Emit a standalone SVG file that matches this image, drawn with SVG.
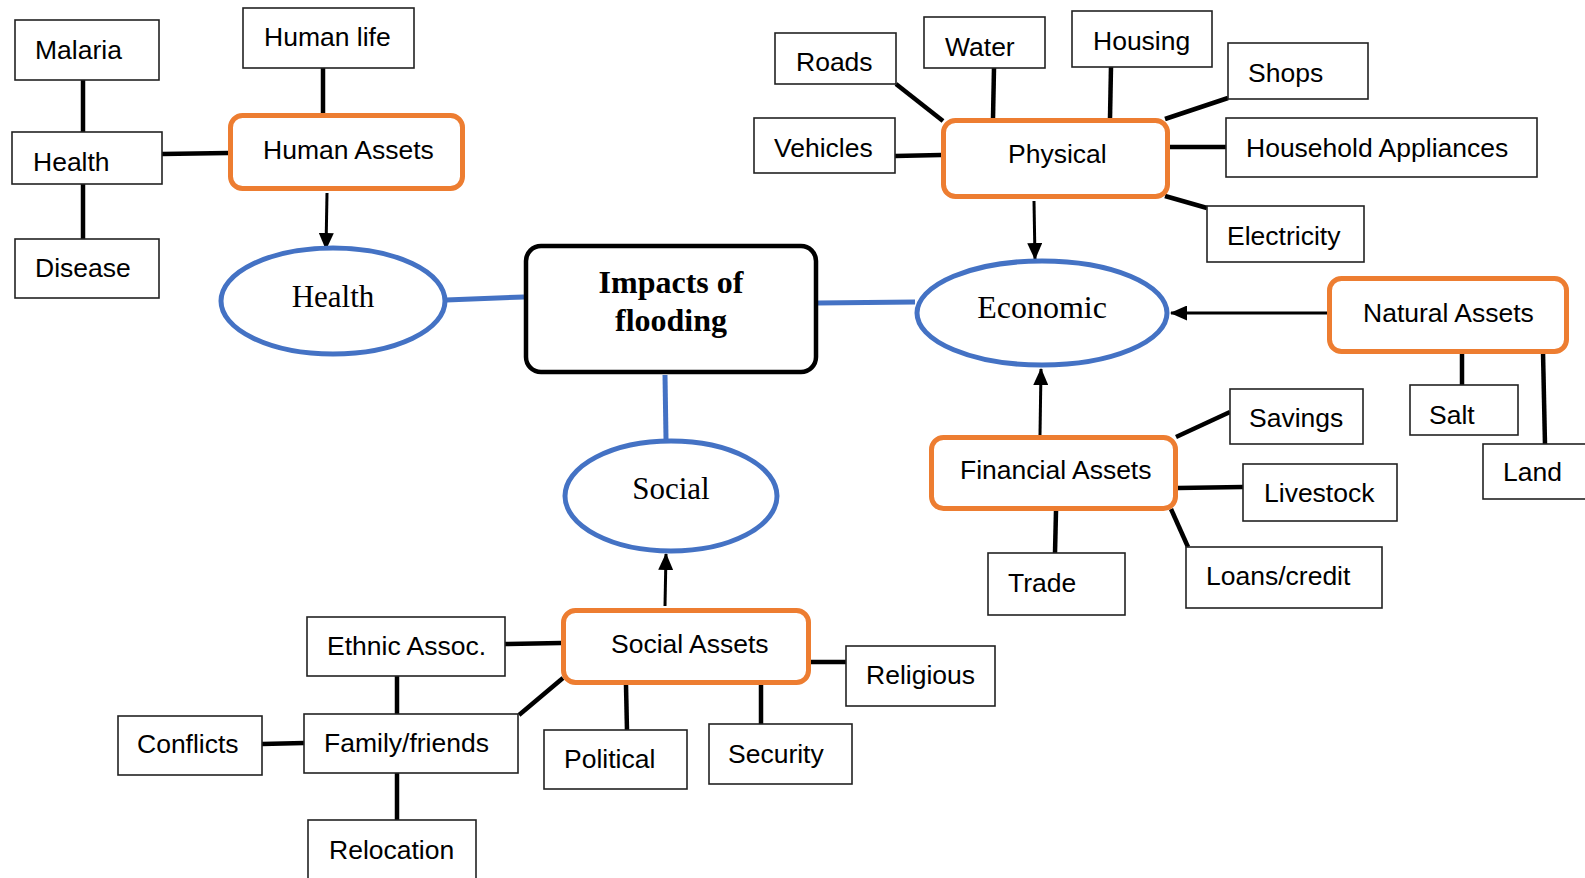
<svg xmlns="http://www.w3.org/2000/svg" width="1585" height="878" viewBox="0 0 1585 878">
<style>
.box{fill:#fff;stroke:#222;stroke-width:1.6}
.asset{fill:#fff;stroke:#ED7D31;stroke-width:5}
.ell{fill:#fff;stroke:#4472C4;stroke-width:5}
.core{fill:#fff;stroke:#000;stroke-width:4.5}
.t{font-family:"Liberation Sans",Arial,sans-serif;font-size:26.5px;fill:#000}
.s{font-family:"Liberation Serif","Times New Roman",serif;font-size:31px;fill:#000}
.sb{font-family:"Liberation Serif","Times New Roman",serif;font-size:32px;font-weight:bold;fill:#000}
.k{stroke:#000;stroke-width:4.5;fill:none}
.a{stroke:#000;stroke-width:3;fill:none;marker-end:url(#ah)}
.b{stroke:#4472C4;stroke-width:5;fill:none}
</style>
<defs>
<marker id="ah" markerUnits="userSpaceOnUse" markerWidth="17" markerHeight="15" refX="16" refY="7.5" orient="auto">
<path d="M0,0 L17,7.5 L0,15 Z" fill="#000"/>
</marker>
</defs>
<rect width="1585" height="878" fill="#fff"/>
<g id="connectors">
<line class="k" x1="83" y1="80" x2="83" y2="132"/>
<line class="k" x1="83" y1="184" x2="83" y2="239"/>
<line class="k" x1="162" y1="154" x2="228" y2="153"/>
<line class="k" x1="323" y1="68" x2="323" y2="113"/>
<line class="a" x1="327" y1="193" x2="326" y2="249"/>
<line class="b" x1="446" y1="300" x2="524" y2="297"/>
<line class="b" x1="818" y1="303" x2="915" y2="302"/>
<line class="b" x1="665" y1="375" x2="666" y2="439"/>
<line class="k" x1="896" y1="84" x2="943" y2="121"/>
<line class="k" x1="994" y1="68" x2="993" y2="118"/>
<line class="k" x1="1111" y1="67" x2="1110" y2="118"/>
<line class="k" x1="1228" y1="98" x2="1165" y2="119"/>
<line class="k" x1="895" y1="156" x2="941" y2="155"/>
<line class="k" x1="1170" y1="147" x2="1226" y2="147"/>
<line class="k" x1="1165" y1="196" x2="1207" y2="208"/>
<line class="a" x1="1034" y1="201" x2="1035" y2="259"/>
<line class="a" x1="1327" y1="313" x2="1171" y2="313"/>
<line class="k" x1="1462" y1="354" x2="1462" y2="387"/>
<line class="k" x1="1543" y1="352" x2="1545" y2="445"/>
<line class="a" x1="1040" y1="435" x2="1041" y2="369"/>
<line class="k" x1="1176" y1="437" x2="1230" y2="412"/>
<line class="k" x1="1178" y1="488" x2="1243" y2="487"/>
<line class="k" x1="1171" y1="509" x2="1188" y2="547"/>
<line class="k" x1="1056" y1="511" x2="1055" y2="553"/>
<line class="a" x1="665" y1="606" x2="666" y2="554"/>
<line class="k" x1="561" y1="643" x2="505" y2="644"/>
<line class="k" x1="563" y1="678" x2="519" y2="715"/>
<line class="k" x1="626" y1="685" x2="627" y2="731"/>
<line class="k" x1="761" y1="685" x2="761" y2="725"/>
<line class="k" x1="811" y1="662" x2="846" y2="662"/>
<line class="k" x1="397" y1="676" x2="397" y2="714"/>
<line class="k" x1="262" y1="744" x2="304" y2="743"/>
<line class="k" x1="397" y1="773" x2="397" y2="820"/>
</g>
<g id="malaria"><rect class="box" x="15" y="20" width="144" height="60"/><text class="t" x="35" y="59">Malaria</text></g>
<g id="human-life"><rect class="box" x="243" y="8" width="171" height="60"/><text class="t" x="264" y="46">Human life</text></g>
<g id="health-box"><rect class="box" x="12" y="132" width="150" height="52"/><text class="t" x="33" y="171">Health</text></g>
<g id="disease"><rect class="box" x="15" y="239" width="144" height="59"/><text class="t" x="35" y="277">Disease</text></g>
<g id="human-assets"><rect class="asset" x="230.5" y="115.5" width="232" height="73" rx="12"/><text class="t" x="263" y="159">Human Assets</text></g>
<g id="health-ellipse"><ellipse class="ell" cx="333" cy="301" rx="112" ry="53"/><text class="s" x="333" y="307" text-anchor="middle">Health</text></g>
<g id="impacts"><rect class="core" x="526" y="246" width="290" height="126" rx="15"/><text class="sb" x="671" y="293" text-anchor="middle">Impacts of</text><text class="sb" x="671" y="331" text-anchor="middle">flooding</text></g>
<g id="economic"><ellipse class="ell" cx="1042" cy="313" rx="125" ry="52"/><text class="s" x="1042" y="318" text-anchor="middle" style="font-size:32px">Economic</text></g>
<g id="social"><ellipse class="ell" cx="671" cy="496" rx="106" ry="55"/><text class="s" x="671" y="499" text-anchor="middle">Social</text></g>
<g id="roads"><rect class="box" x="775" y="33" width="121" height="51"/><text class="t" x="796" y="71">Roads</text></g>
<g id="water"><rect class="box" x="924" y="17" width="121" height="51"/><text class="t" x="945" y="56">Water</text></g>
<g id="housing"><rect class="box" x="1072" y="11" width="140" height="56"/><text class="t" x="1093" y="50">Housing</text></g>
<g id="shops"><rect class="box" x="1228" y="43" width="140" height="56"/><text class="t" x="1248" y="82">Shops</text></g>
<g id="vehicles"><rect class="box" x="754" y="118" width="141" height="55"/><text class="t" x="774" y="157">Vehicles</text></g>
<g id="physical"><rect class="asset" x="943.5" y="120.5" width="224" height="76" rx="12"/><text class="t" x="1008" y="163">Physical</text></g>
<g id="household-appliances"><rect class="box" x="1226" y="118" width="311" height="59"/><text class="t" x="1246" y="157">Household Appliances</text></g>
<g id="electricity"><rect class="box" x="1207" y="206" width="157" height="56"/><text class="t" x="1227" y="245">Electricity</text></g>
<g id="natural-assets"><rect class="asset" x="1329.5" y="278.5" width="237" height="73" rx="12"/><text class="t" x="1363" y="322">Natural Assets</text></g>
<g id="salt"><rect class="box" x="1410" y="385" width="108" height="50"/><text class="t" x="1429" y="424">Salt</text></g>
<g id="land"><rect class="box" x="1483" y="444" width="104" height="55"/><text class="t" x="1503" y="481">Land</text></g>
<g id="financial-assets"><rect class="asset" x="931.5" y="437.5" width="244" height="71" rx="12"/><text class="t" x="960" y="479">Financial Assets</text></g>
<g id="savings"><rect class="box" x="1230" y="389" width="133" height="55"/><text class="t" x="1249" y="427">Savings</text></g>
<g id="livestock"><rect class="box" x="1243" y="464" width="154" height="57"/><text class="t" x="1264" y="502">Livestock</text></g>
<g id="trade"><rect class="box" x="988" y="553" width="137" height="62"/><text class="t" x="1008" y="592">Trade</text></g>
<g id="loans-credit"><rect class="box" x="1186" y="547" width="196" height="61"/><text class="t" x="1206" y="585">Loans/credit</text></g>
<g id="social-assets"><rect class="asset" x="563.5" y="610.5" width="245" height="72" rx="12"/><text class="t" x="611" y="653">Social Assets</text></g>
<g id="ethnic-assoc"><rect class="box" x="307" y="617" width="198" height="59"/><text class="t" x="327" y="655">Ethnic Assoc.</text></g>
<g id="religious"><rect class="box" x="846" y="646" width="149" height="60"/><text class="t" x="866" y="684">Religious</text></g>
<g id="conflicts"><rect class="box" x="118" y="716" width="144" height="59"/><text class="t" x="137" y="753">Conflicts</text></g>
<g id="family-friends"><rect class="box" x="304" y="714" width="214" height="59"/><text class="t" x="324" y="752">Family/friends</text></g>
<g id="political"><rect class="box" x="544" y="730" width="143" height="59"/><text class="t" x="564" y="768">Political</text></g>
<g id="security"><rect class="box" x="709" y="724" width="143" height="60"/><text class="t" x="728" y="763">Security</text></g>
<g id="relocation"><rect class="box" x="308" y="820" width="168" height="60"/><text class="t" x="329" y="859">Relocation</text></g>
</svg>
